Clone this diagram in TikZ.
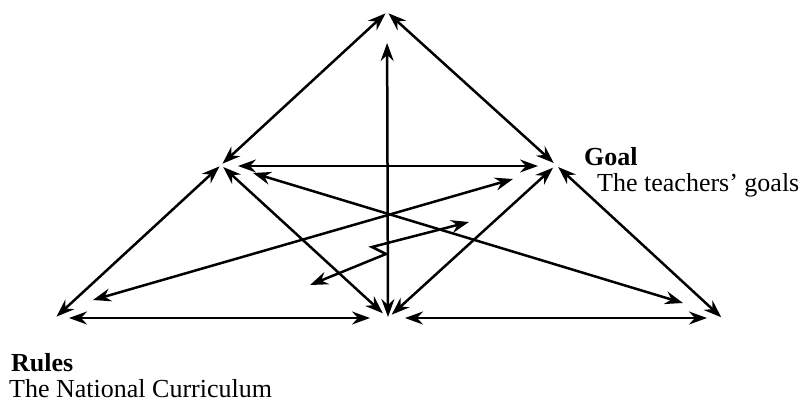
\documentclass[tikz,border=0pt]{standalone}
\usepackage{fontspec}
\setmainfont{Liberation Serif}
\usetikzlibrary{arrows.meta}
\begin{document}
\begin{tikzpicture}[x=1pt,y=-1pt,
  link/.style={line width=2.5pt,
    {Stealth[length=18pt,width=13pt,inset=6pt]}-{Stealth[length=18pt,width=13pt,inset=6pt]}},
  lbl/.style={anchor=base west, inner sep=0pt, font=\fontsize{26}{30}\selectfont},
  lblb/.style={lbl, font=\fontsize{26}{30}\selectfont\bfseries}]
\useasboundingbox (0,0) rectangle (805,410);
% vertices
\coordinate (T) at (387,12);
\coordinate (L) at (221,165);
\coordinate (R) at (556,165);
\coordinate (BL) at (55,318);
\coordinate (BM) at (388,318);
\coordinate (BR) at (722,318);
% inner diagonal ends
\coordinate (D1a) at (93,300);
\coordinate (D1b) at (513,179);
\coordinate (D2a) at (253,173);
\coordinate (D2b) at (683,303);
% zigzag
\coordinate (Z1) at (469,222);
\coordinate (Z2) at (372,247);
\coordinate (Z3) at (386,254);
\coordinate (Z4) at (310,285);
% outer and inner edges
\draw[link, shorten <=2pt, shorten >=2pt] (L) -- (T);
\draw[link, shorten <=3pt, shorten >=2pt] (R) -- (T);
\draw[link, shorten <=1pt, shorten >=31pt] (BM) -- (T);
\draw[link, shorten <=17pt, shorten >=18pt] ([yshift=-1pt]L) -- ([yshift=-1pt]R);
\draw[link, shorten <=2pt, shorten >=2pt] (L) -- (BL);
\draw[link, shorten <=3pt, shorten >=7pt] (L) -- (BM);
\draw[link, shorten <=4pt, shorten >=5pt] (R) -- (BM);
\draw[link, shorten <=3pt, shorten >=1pt] (R) -- (BR);
\draw[link, shorten <=14pt, shorten >=18pt] (BL) -- (BM);
\draw[link, shorten <=17pt, shorten >=15pt] (BM) -- (BR);
\draw[link] (D1a) -- (D1b);
\draw[link] (D2a) -- (D2b);
\draw[link, line join=miter] (Z1) -- (Z2) -- (Z3) -- (Z4);
% labels
\node[lblb] (goal) at (584,165) {Goal};
\node[lbl] (goaltext) at (597,191) {The teachers’ goals};
\node[lblb] (rules) at (11,371) {Rules};
\node[lbl] (rulestext) at (9,397) {The National Curriculum};
\end{tikzpicture}
\end{document}
